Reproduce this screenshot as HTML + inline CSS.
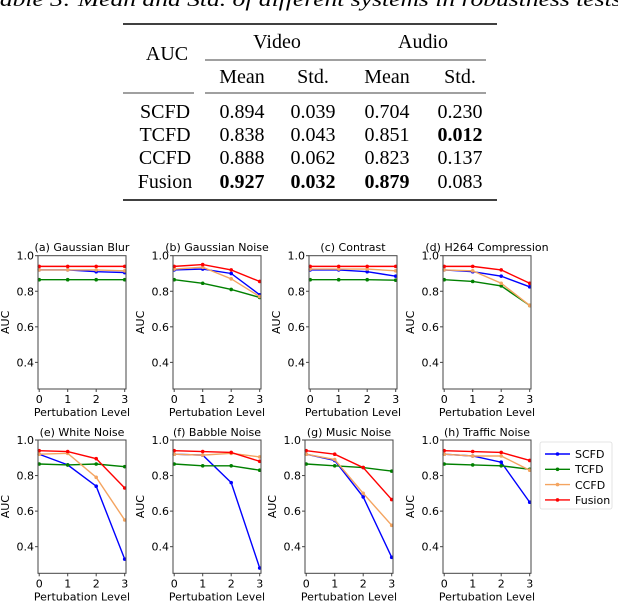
<!DOCTYPE html>
<html><head><meta charset="utf-8"><style>
html,body{margin:0;padding:0;background:#fff;width:618px;height:602px;overflow:hidden}
svg{display:block}
.s{font-family:"Liberation Serif",serif;font-size:20px;fill:#000}
.b{font-weight:bold}
.d{font-family:"DejaVu Sans",sans-serif;font-size:11px;fill:#000}
</style></head><body>
<svg id="sv" width="618" height="602" viewBox="0 0 618 602">
<text class="s" x="-12" y="6" font-style="italic" textLength="640" lengthAdjust="spacingAndGlyphs">Table 3: Mean and Std. of different systems in robustness tests.</text>
<line x1="123" y1="24" x2="497" y2="24" stroke="#000" stroke-width="1.6"/>
<line x1="205" y1="60" x2="486" y2="60" stroke="#000" stroke-width="0.8"/>
<line x1="123" y1="93" x2="194" y2="93" stroke="#000" stroke-width="0.8"/>
<line x1="205" y1="93" x2="486" y2="93" stroke="#000" stroke-width="0.8"/>
<line x1="123" y1="200" x2="497" y2="200" stroke="#000" stroke-width="1.6"/>
<g class="s" text-anchor="middle">
<text x="167" y="60">AUC</text>
<text x="277" y="48">Video</text><text x="423" y="48">Audio</text>
<text x="242" y="83">Mean</text><text x="313" y="83">Std.</text><text x="387" y="83">Mean</text><text x="460" y="83">Std.</text>
<text x="165" y="118">SCFD</text><text x="242" y="118">0.894</text><text x="313" y="118">0.039</text><text x="387" y="118">0.704</text><text x="460" y="118">0.230</text>
<text x="165" y="141">TCFD</text><text x="242" y="141">0.838</text><text x="313" y="141">0.043</text><text x="387" y="141">0.851</text><text x="460" y="141" class="b">0.012</text>
<text x="165" y="164">CCFD</text><text x="242" y="164">0.888</text><text x="313" y="164">0.062</text><text x="387" y="164">0.823</text><text x="460" y="164">0.137</text>
<text x="165" y="188">Fusion</text><text x="242" y="188" class="b">0.927</text><text x="313" y="188" class="b">0.032</text><text x="387" y="188" class="b">0.879</text><text x="460" y="188">0.083</text>
</g>
<g class="d" text-anchor="middle">
<text x="82" y="251">(a) Gaussian Blur</text>
<text x="217" y="251">(b) Gaussian Noise</text>
<text x="353" y="251">(c) Contrast</text>
<text x="487" y="251">(d) H264 Compression</text>
<text x="82" y="436">(e) White Noise</text>
<text x="217" y="436">(f) Babble Noise</text>
<text x="349" y="436">(g) Music Noise</text>
<text x="487" y="436">(h) Traffic Noise</text>
</g>
<g id="ticks" class="d"></g>
<rect x="540" y="442" width="72" height="67" rx="2" fill="#fff" stroke="#ddd" stroke-width="0.8"/>
<g class="d">
<text x="575" y="458">SCFD</text>
<text x="575" y="473">TCFD</text>
<text x="575" y="489">CCFD</text>
<text x="575" y="504">Fusion</text>
</g>
<g id="leg"></g>
</svg>
<script>
var NS="http://www.w3.org/2000/svg",sv=document.getElementById('sv');
function el(t,a,p){var e=document.createElementNS(NS,t);for(var k in a)e.setAttribute(k,a[k]);(p||sv).appendChild(e);return e;}
var C={S:'#0000ff',T:'#008000',C:'#f4a460',F:'#ff0000'};
var P=[
[38,255.7,{S:[.92,.92,.91,.905],T:[.865,.865,.865,.865],C:[.92,.92,.92,.915],F:[.94,.94,.94,.94]}],
[173,255.7,{S:[.92,.925,.90,.78],T:[.865,.845,.81,.765],C:[.925,.935,.87,.77],F:[.94,.95,.92,.855]}],
[309,255.7,{S:[.92,.92,.91,.885],T:[.865,.865,.865,.862],C:[.925,.925,.925,.915],F:[.94,.94,.94,.94]}],
[443,255.7,{S:[.92,.91,.885,.825],T:[.865,.855,.83,.72],C:[.92,.915,.845,.72],F:[.94,.94,.92,.845]}],
[38,440,{S:[.92,.86,.74,.33],T:[.865,.86,.865,.85],C:[.92,.925,.79,.55],F:[.94,.935,.895,.73]}],
[173,440,{S:[.92,.915,.76,.28],T:[.865,.855,.855,.83],C:[.92,.915,.925,.905],F:[.94,.935,.93,.88]}],
[305,440,{S:[.92,.885,.68,.34],T:[.865,.855,.845,.825],C:[.92,.89,.70,.52],F:[.94,.92,.845,.665]}],
[443,440,{S:[.92,.91,.875,.65],T:[.865,.86,.855,.835],C:[.92,.91,.91,.83],F:[.94,.935,.93,.885]}]];
var K=177.8,W=88,H=133.3;
var tg=document.getElementById('ticks');
P.forEach(function(p){
 var L=p[0],T=p[1],g=el('g',{},sv);
 ['S','T','C','F'].forEach(function(k){
  var pts=p[2][k].map(function(v,i){return [L+1.2+28.5*i,T+(1-v)*K];});
  el('polyline',{points:pts.map(function(q){return q.join(',')}).join(' '),fill:'none',stroke:C[k],'stroke-width':1.4},g);
  pts.forEach(function(q){el('circle',{cx:q[0],cy:q[1],r:1.8,fill:C[k]},g);});
 });
 el('rect',{x:L,y:T,width:W,height:H,fill:'none',stroke:'#444','stroke-width':1},g);
 [1,.8,.6,.4].forEach(function(v){var y=T+(1-v)*K;el('line',{x1:L-3,x2:L,y1:y,y2:y,stroke:'#444'},g);
  var t=el('text',{x:L-4,y:y+4,'text-anchor':'end'},tg);t.textContent=v.toFixed(1);});
 for(var i=0;i<4;i++){var x=L+1.2+28.5*i;el('line',{x1:x,x2:x,y1:T+H,y2:T+H+3,stroke:'#444'},g);
  var t=el('text',{x:x,y:T+H+14,'text-anchor':'middle'},tg);t.textContent=i;}
 var a=el('text',{transform:'translate('+(L-29)+','+(T+H/2)+') rotate(-90)','text-anchor':'middle'},tg);a.textContent='AUC';
 var xl=el('text',{x:L+W/2,y:T+H+27,'text-anchor':'middle'},tg);xl.textContent='Pertubation Level';
});
var lg=document.getElementById('leg');
['S','T','C','F'].forEach(function(k,i){var y=454+15.3*i;el('line',{x1:545,x2:570,y1:y,y2:y,stroke:C[k],'stroke-width':1.4},lg);el('circle',{cx:557.5,cy:y,r:1.8,fill:C[k]},lg);});
</script>
</body></html>
